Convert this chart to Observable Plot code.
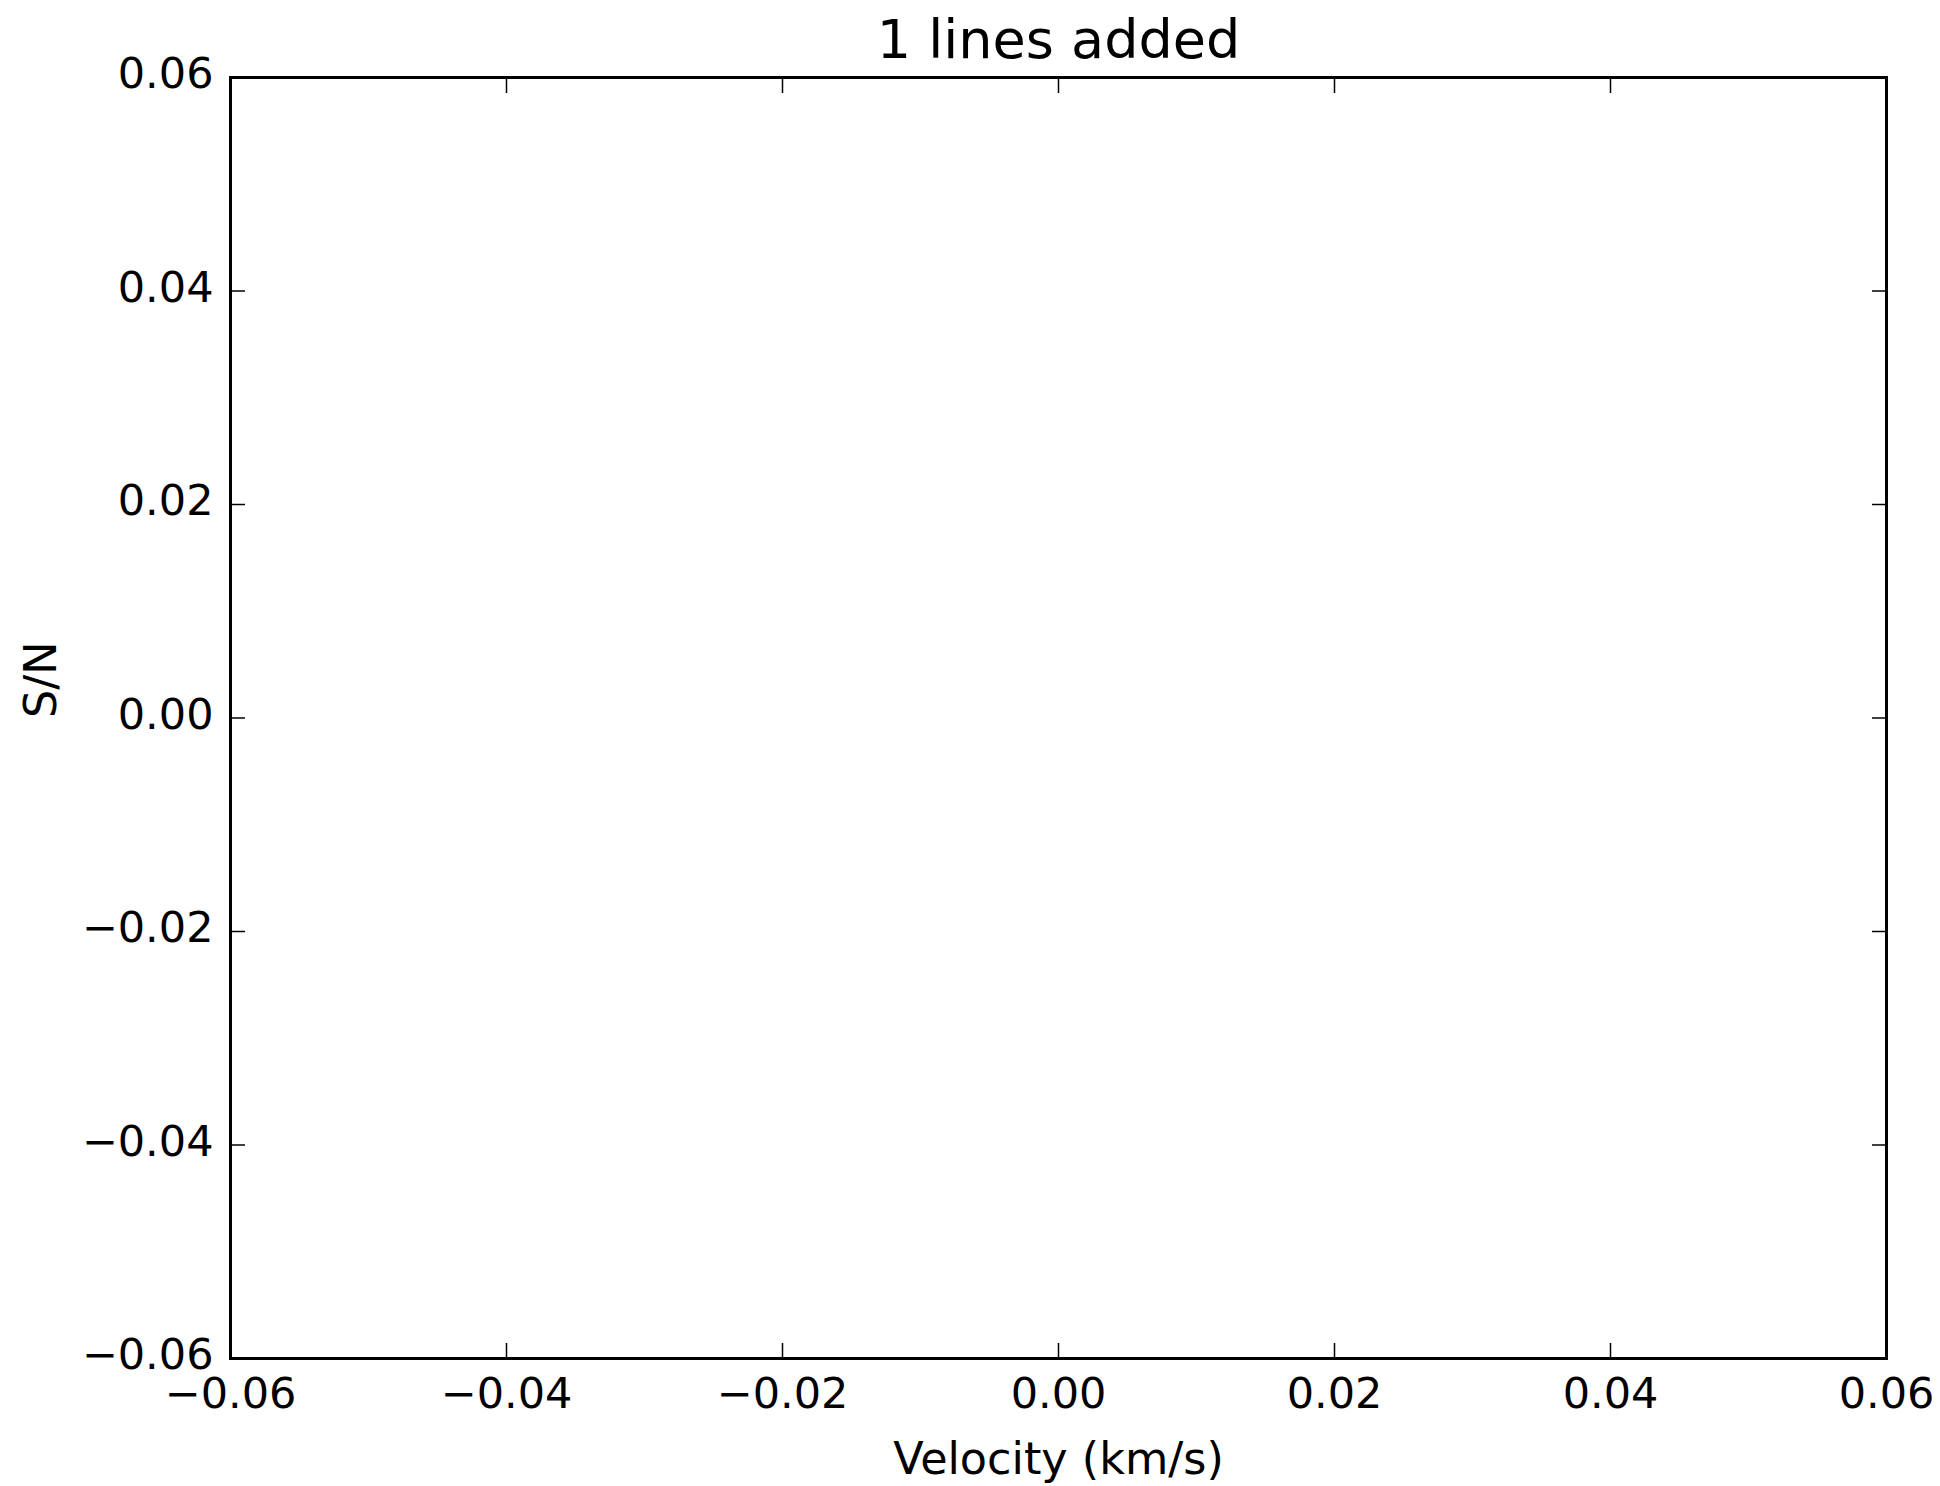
<!DOCTYPE html>
<html><head><meta charset="utf-8">
<script src="https://cdn.jsdelivr.net/npm/d3@7"></script>
<script src="https://cdn.jsdelivr.net/npm/@observablehq/plot@0.6"></script>
<style>html,body{margin:0;padding:0;background:#fff;} #chart svg{display:block;}</style>
</head><body><div id="chart"></div>
<script>
// ---- data ----
const titleText = "1 lines added";
const xLabel = "Velocity (km/s)";
const yLabel = "S/N";
const xDomain = [-0.06, 0.06];
const yDomain = [-0.06, 0.06];
const xTicks = [-0.06, -0.04, -0.02, 0, 0.02, 0.04, 0.06];
const yTicks = [-0.06, -0.04, -0.02, 0, 0.02, 0.04, 0.06];
// The one added line has no visible points inside the axes
const velocity = [];
const signalToNoise = [];

const fmt = d => (d < 0 ? "\u2212" : "") + Math.abs(d).toFixed(2);
const lineData = velocity.map((v, i) => ({v, sn: signalToNoise[i]}));

const font = "DejaVu Sans, Bitstream Vera Sans, sans-serif";
const tickFont = 43;

const chart = Plot.plot({
  width: 1940,
  height: 1486,
  marginLeft: 230,
  marginRight: 54,
  marginTop: 77,
  marginBottom: 128,
  style: {fontFamily: font, fontSize: tickFont + "px", color: "black", background: "white"},
  x: {domain: xDomain},
  y: {domain: yDomain},
  marks: [
    Plot.lineY(lineData, {x: "v", y: "sn", stroke: "blue"}),
    // inward ticks on all four sides
    Plot.axisX({anchor: "bottom", ticks: xTicks, tickSize: -15, fill: "none", label: null, strokeWidth: 1.5}),
    Plot.axisX({anchor: "top", ticks: xTicks, tickSize: -15, fill: "none", label: null, strokeWidth: 1.5}),
    Plot.axisY({anchor: "left", ticks: yTicks, tickSize: -15, fill: "none", label: null, strokeWidth: 1.5}),
    Plot.axisY({anchor: "right", ticks: yTicks, tickSize: -15, fill: "none", label: null, strokeWidth: 1.5}),
    // tick labels
    Plot.axisX({anchor: "bottom", ticks: xTicks, tickFormat: fmt, tickSize: 0, tickPadding: 19, label: null, fontSize: tickFont}),
    Plot.axisY({anchor: "left", ticks: yTicks, tickFormat: fmt, tickSize: 0, tickPadding: 17, dy: -3, label: null, fontSize: tickFont}),
    Plot.frame({stroke: "black", strokeWidth: 3}),
    // title and axis labels
    Plot.text([titleText], {frameAnchor: "top", dy: -20, lineAnchor: "bottom", fontSize: 54, fill: "black"}),
    Plot.text([xLabel], {frameAnchor: "bottom", dy: 115, lineAnchor: "bottom", fontSize: 44.5, fill: "black"}),
    Plot.text([yLabel], {frameAnchor: "left", dx: -175, rotate: -90, lineAnchor: "bottom", fontSize: 44.5, fill: "black"})
  ]
});
document.getElementById("chart").appendChild(chart);
</script>
</body></html>
